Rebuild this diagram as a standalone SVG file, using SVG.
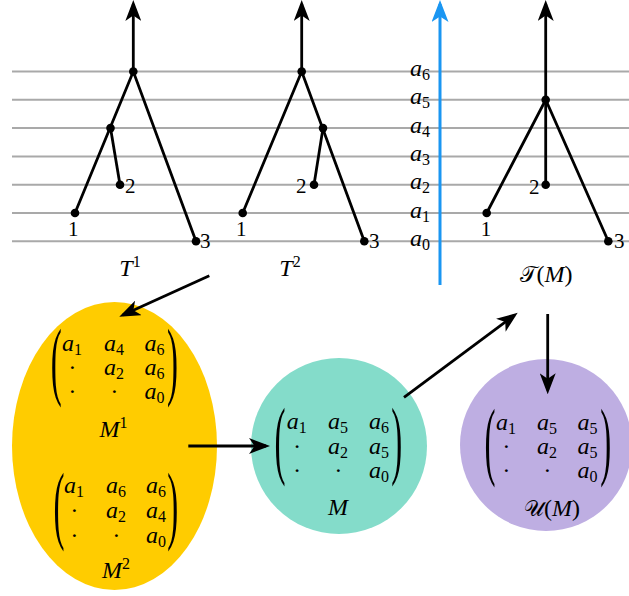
<svg xmlns="http://www.w3.org/2000/svg" width="629" height="596" viewBox="0 0 629 596">
<style>
.grid line{stroke:#a9a9a9;stroke-width:2}
.edge{stroke:#000;stroke-width:2.8;fill:none}
.dot{fill:#000}
.num{font-family:"Liberation Serif",serif;font-size:21px;fill:#000}
.m{font-family:"Liberation Serif",serif;font-style:italic;font-size:24px;fill:#000;text-anchor:middle}
.s{font-style:normal;font-size:16px}
.up{font-style:normal}
.bp{font-family:"Liberation Serif",serif;font-size:87px;fill:#000;text-anchor:middle}
.cal{font-family:"DejaVu Sans","Noto Sans",serif;font-style:normal;font-size:22px}
.conn{stroke:#000;stroke-width:2.8;fill:none;marker-end:url(#ah)}
</style>
<defs>
<marker id="ah" markerUnits="userSpaceOnUse" viewBox="0 0 21 16" markerWidth="21" markerHeight="16" refX="17" refY="8" orient="auto">
<path d="M0,0 L21,8 L0,16 L5.5,8 Z" fill="#000"/>
</marker>
<marker id="ahb" markerUnits="userSpaceOnUse" viewBox="0 0 22 17" markerWidth="22" markerHeight="17" refX="18" refY="8.5" orient="auto">
<path d="M0,0 L22,8.5 L0,17 L5.5,8.5 Z" fill="#1a96f2"/>
</marker>
</defs>
<rect width="629" height="596" fill="#fff"/>

<g id="grid" class="grid">
<line x1="12" y1="71.5" x2="629" y2="71.5"/>
<line x1="12" y1="99.8" x2="629" y2="99.8"/>
<line x1="12" y1="128.1" x2="629" y2="128.1"/>
<line x1="12" y1="156.4" x2="629" y2="156.4"/>
<line x1="12" y1="184.7" x2="629" y2="184.7"/>
<line x1="12" y1="213" x2="629" y2="213"/>
<line x1="12" y1="241.3" x2="629" y2="241.3"/>
</g>

<g id="axis">
<line x1="440" y1="285" x2="440" y2="4" stroke="#1a96f2" stroke-width="3" marker-end="url(#ahb)"/>
<text class="m" x="420" y="76">a<tspan class="s" dy="4">6</tspan></text>
<text class="m" x="420" y="104.3">a<tspan class="s" dy="4">5</tspan></text>
<text class="m" x="420" y="132.6">a<tspan class="s" dy="4">4</tspan></text>
<text class="m" x="420" y="160.9">a<tspan class="s" dy="4">3</tspan></text>
<text class="m" x="420" y="189.2">a<tspan class="s" dy="4">2</tspan></text>
<text class="m" x="420" y="217.5">a<tspan class="s" dy="4">1</tspan></text>
<text class="m" x="420" y="245.8">a<tspan class="s" dy="4">0</tspan></text>
</g>

<g id="tree-T1">
<line class="edge" x1="133.3" y1="71.5" x2="133.3" y2="4" marker-end="url(#ah)"/>
<polyline class="edge" points="75,213 133.3,71.5 196,241.3"/>
<line class="edge" x1="110.5" y1="128.1" x2="120" y2="184.7"/>
<circle class="dot" cx="133.3" cy="71.5" r="4.3"/>
<circle class="dot" cx="110.5" cy="128.1" r="4.3"/>
<circle class="dot" cx="120" cy="184.7" r="4.3"/>
<circle class="dot" cx="75" cy="213" r="4.3"/>
<circle class="dot" cx="196" cy="241.3" r="4.3"/>
<text class="num" x="73.3" y="236" text-anchor="middle">1</text>
<text class="num" x="125" y="193">2</text>
<text class="num" x="200" y="248">3</text>
<text class="m" x="130" y="276">T<tspan class="s" dy="-9">1</tspan></text>
</g>

<g id="tree-T2">
<line class="edge" x1="301.7" y1="71.5" x2="301.7" y2="4" marker-end="url(#ah)"/>
<polyline class="edge" points="242.7,213 301.7,71.5 364.3,241.3"/>
<line class="edge" x1="323" y1="128.1" x2="314" y2="184.7"/>
<circle class="dot" cx="301.7" cy="71.5" r="4.3"/>
<circle class="dot" cx="323" cy="128.1" r="4.3"/>
<circle class="dot" cx="314" cy="184.7" r="4.3"/>
<circle class="dot" cx="242.7" cy="213" r="4.3"/>
<circle class="dot" cx="364.3" cy="241.3" r="4.3"/>
<text class="num" x="241.3" y="236" text-anchor="middle">1</text>
<text class="num" x="296" y="193">2</text>
<text class="num" x="369" y="248">3</text>
<text class="m" x="290" y="276">T<tspan class="s" dy="-9">2</tspan></text>
</g>

<g id="tree-TM">
<line class="edge" x1="545.7" y1="99.8" x2="545.7" y2="4" marker-end="url(#ah)"/>
<polyline class="edge" points="486.7,213 545.7,99.8 608.3,241.3"/>
<line class="edge" x1="545.7" y1="99.8" x2="545.7" y2="184.7"/>
<circle class="dot" cx="545.7" cy="99.8" r="4.3"/>
<circle class="dot" cx="545.7" cy="184.7" r="4.3"/>
<circle class="dot" cx="486.7" cy="213" r="4.3"/>
<circle class="dot" cx="608.3" cy="241.3" r="4.3"/>
<text class="num" x="486" y="236" text-anchor="middle">1</text>
<text class="num" x="529" y="194">2</text>
<text class="num" x="614" y="248">3</text>
<text class="m" x="546" y="282"><tspan class="cal">𝒯</tspan><tspan class="up">(</tspan>M<tspan class="up">)</tspan></text>
</g>

<g id="node-M12">
<ellipse cx="114.5" cy="446" rx="102.5" ry="144" fill="#ffcc00"/>
<text class="bp" transform="translate(56.3,388.6) scale(0.38,1)">(</text>
<text class="bp" transform="translate(172.5,388.6) scale(0.38,1)">)</text>
<text class="m" x="72" y="351">a<tspan class="s" dy="4">1</tspan></text>
<text class="m" x="114" y="351">a<tspan class="s" dy="4">4</tspan></text>
<text class="m" x="154.5" y="351">a<tspan class="s" dy="4">6</tspan></text>
<text class="m" x="72" y="375">·</text>
<text class="m" x="114" y="375">a<tspan class="s" dy="4">2</tspan></text>
<text class="m" x="154.5" y="375">a<tspan class="s" dy="4">6</tspan></text>
<text class="m" x="72" y="399">·</text>
<text class="m" x="114" y="399">·</text>
<text class="m" x="154.5" y="399">a<tspan class="s" dy="4">0</tspan></text>
<text class="m" x="113.5" y="437">M<tspan class="s" dy="-9">1</tspan></text>
<text class="bp" transform="translate(59,532.6) scale(0.38,1)">(</text>
<text class="bp" transform="translate(172.7,532.6) scale(0.38,1)">)</text>
<text class="m" x="74" y="493">a<tspan class="s" dy="4">1</tspan></text>
<text class="m" x="116" y="493">a<tspan class="s" dy="4">6</tspan></text>
<text class="m" x="156" y="493">a<tspan class="s" dy="4">6</tspan></text>
<text class="m" x="74" y="518">·</text>
<text class="m" x="116" y="518">a<tspan class="s" dy="4">2</tspan></text>
<text class="m" x="156" y="518">a<tspan class="s" dy="4">4</tspan></text>
<text class="m" x="74" y="543">·</text>
<text class="m" x="116" y="543">·</text>
<text class="m" x="156" y="543">a<tspan class="s" dy="4">0</tspan></text>
<text class="m" x="116" y="578">M<tspan class="s" dy="-9">2</tspan></text>
</g>

<g id="node-M">
<circle cx="339" cy="446" r="88" fill="#84dcca"/>
<text class="bp" transform="translate(280,468) scale(0.38,1)">(</text>
<text class="bp" transform="translate(396.7,468) scale(0.38,1)">)</text>
<text class="m" x="296.7" y="429">a<tspan class="s" dy="4">1</tspan></text>
<text class="m" x="338" y="429">a<tspan class="s" dy="4">5</tspan></text>
<text class="m" x="379" y="429">a<tspan class="s" dy="4">6</tspan></text>
<text class="m" x="296.7" y="454">·</text>
<text class="m" x="338" y="454">a<tspan class="s" dy="4">2</tspan></text>
<text class="m" x="379" y="454">a<tspan class="s" dy="4">5</tspan></text>
<text class="m" x="296.7" y="478">·</text>
<text class="m" x="338" y="478">·</text>
<text class="m" x="379" y="478">a<tspan class="s" dy="4">0</tspan></text>
<text class="m" x="338" y="515">M</text>
</g>

<g id="node-UM">
<circle cx="546" cy="445" r="86" fill="#beaee2"/>
<text class="bp" transform="translate(490,468.6) scale(0.38,1)">(</text>
<text class="bp" transform="translate(605.8,468.6) scale(0.38,1)">)</text>
<text class="m" x="506" y="430">a<tspan class="s" dy="4">1</tspan></text>
<text class="m" x="547" y="430">a<tspan class="s" dy="4">5</tspan></text>
<text class="m" x="587.5" y="430">a<tspan class="s" dy="4">5</tspan></text>
<text class="m" x="506" y="454">·</text>
<text class="m" x="547" y="454">a<tspan class="s" dy="4">2</tspan></text>
<text class="m" x="587.5" y="454">a<tspan class="s" dy="4">5</tspan></text>
<text class="m" x="506" y="478">·</text>
<text class="m" x="547" y="478">·</text>
<text class="m" x="587.5" y="478">a<tspan class="s" dy="4">0</tspan></text>
<text class="m" x="552" y="516"><tspan class="cal">𝒰</tspan><tspan class="up">(</tspan>M<tspan class="up">)</tspan></text>
</g>

<g id="connectors">
<line class="conn" x1="209.3" y1="275.7" x2="122.9" y2="315"/>
<line class="conn" x1="188.3" y1="446" x2="266" y2="446"/>
<line class="conn" x1="404" y1="397.3" x2="514.5" y2="315.1"/>
<line class="conn" x1="547.7" y1="314" x2="547.7" y2="390.3"/>
</g>
</svg>
